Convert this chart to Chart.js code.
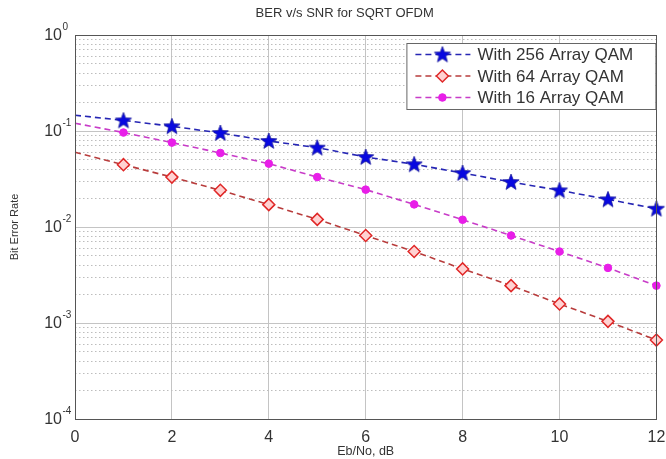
<!DOCTYPE html>
<html><head><meta charset="utf-8">
<script src="https://cdn.jsdelivr.net/npm/chart.js@4.4.1/dist/chart.umd.min.js"></script>
<style>html,body{margin:0;padding:0;background:#fff}#wrap{width:666px;height:459px}</style>
</head><body><div id="wrap"><canvas id="c" width="666" height="459"></canvas></div>
<script>
const snrDb = [0,1,2,3,4,5,6,7,8,9,10,11,12];
const ber256 = [0.146,0.129,0.112,0.0954,0.0787,0.0671,0.0536,0.0450,0.0365,0.0294,0.0241,0.0194,0.0155];
const ber64  = [0.060,0.0446,0.0331,0.0241,0.0171,0.0120,0.00815,0.00555,0.00366,0.00245,0.00158,0.00104,0.000664];
const ber16  = [0.1205,0.0964,0.0757,0.059,0.0457,0.0331,0.0245,0.0172,0.0119,0.00815,0.00555,0.00375,0.00245];
const seriesLabels = ['With 256 Array QAM','With 64 Array QAM','With 16 Array QAM'];
const yDecadeExponents = [0,-1,-2,-3,-4];
const titleText = 'BER v/s SNR for SQRT OFDM';
const xTitleText = 'Eb/No, dB';
const yTitleText = 'Bit Error Rate';

const FONT = '"Liberation Sans", Arial, sans-serif';
const TXT = '#333';

function starCanvas(color){
  const c = document.createElement('canvas'); c.width = 20; c.height = 20;
  const g = c.getContext('2d');
  g.beginPath();
  for (let i=0;i<10;i++){
    const r = i%2===0 ? 8.5 : 3.6;
    const a = -Math.PI/2 + i*Math.PI/5;
    const px = 10 + r*Math.cos(a), py = 10.5 + r*Math.sin(a);
    i===0 ? g.moveTo(px,py) : g.lineTo(px,py);
  }
  g.closePath(); g.fillStyle = color; g.fill();
  g.strokeStyle = '#1a1a9a'; g.lineWidth = 0.8; g.stroke();
  return c;
}
const star = starCanvas('#0808e0');

const pts = arr => snrDb.map((x,i)=>({x, y: arr[i]}));
const hideFirst = r => ctx => ctx.dataIndex === 0 ? 0 : r;

const datasets = [
  { label: seriesLabels[0], data: pts(ber256), borderColor:'#2626b4', borderWidth:1.6, borderDash:[6,4],
    pointStyle: star, pointRadius: hideFirst(8), pointBackgroundColor:'#0808e0', pointBorderColor:'#0808e0', clip: 12 },
  { label: seriesLabels[1], data: pts(ber64), borderColor:'#b83c3c', borderWidth:1.6, borderDash:[6,4],
    pointStyle:'rectRot', pointRadius: hideFirst(6), pointBackgroundColor:'#ffd2d2', pointBorderColor:'#e02828', pointBorderWidth:1.5, clip: 12 },
  { label: seriesLabels[2], data: pts(ber16), borderColor:'#c83cc8', borderWidth:1.6, borderDash:[6,4],
    pointStyle:'circle', pointRadius: hideFirst(3.8), pointBackgroundColor:'#e81ee8', pointBorderColor:'#e81ee8', pointBorderWidth:1, clip: 12 }
];

const decorPlugin = {
  id: 'decor',
  afterDraw(chart){
    const {ctx, chartArea: a, scales} = chart;
    const ys = scales.y;
    ctx.save();
    // axes box
    ctx.strokeStyle = '#555'; ctx.lineWidth = 1; ctx.setLineDash([]);
    ctx.strokeRect(Math.round(a.left)+0.5, Math.round(a.top)+0.5, Math.round(a.right-a.left), Math.round(a.bottom-a.top));
    // title
    ctx.fillStyle = TXT; ctx.textAlign = 'center'; ctx.textBaseline = 'middle';
    ctx.font = '13px ' + FONT;
    ctx.fillText(titleText, (a.left + a.right)/2 - 21, 13);
    // y decade labels with superscripts
    yDecadeExponents.forEach(e => {
      const y = ys.getPixelForValue(Math.pow(10, e));
      ctx.font = '16px ' + FONT; ctx.textAlign = 'right'; ctx.textBaseline = 'middle';
      ctx.fillText('10', a.left - 13, y + 1);
      ctx.font = '10px ' + FONT; ctx.textAlign = 'left';
      ctx.fillText(String(e), a.left - 12.5, y - 8);
    });
    // legend
    const lw = 249, lh = 66;
    const lx = a.right - lw - 1, ly = a.top + 8;
    ctx.fillStyle = '#fff'; ctx.fillRect(lx, ly, lw, lh);
    ctx.strokeStyle = '#666'; ctx.lineWidth = 1; ctx.strokeRect(lx+0.5, ly+0.5, lw, lh);
    chart.data.datasets.forEach((ds, i) => {
      const cy = ly + 11.5 + i*21.5;
      const meta = chart.getDatasetMeta(i);
      ctx.save();
      ctx.strokeStyle = ds.borderColor; ctx.lineWidth = ds.borderWidth; ctx.setLineDash(ds.borderDash);
      ctx.beginPath(); ctx.moveTo(lx + 9, cy); ctx.lineTo(lx + 64, cy); ctx.stroke();
      ctx.restore();
      const o = meta.data[1].options;
      ctx.save();
      ctx.setLineDash([]);
      ctx.fillStyle = o.backgroundColor; ctx.strokeStyle = o.borderColor; ctx.lineWidth = o.borderWidth;
      Chart.helpers.drawPoint(ctx, o, lx + 36, cy);
      ctx.restore();
      ctx.fillStyle = TXT; ctx.font = '17px ' + FONT; ctx.textAlign = 'left'; ctx.textBaseline = 'middle';
      ctx.fillText(ds.label, lx + 71, cy + 1);
    });
    ctx.restore();
  }
};

new Chart(document.getElementById('c'), {
  type: 'line',
  data: { datasets },
  options: {
    responsive: false, animation: false,
    layout: { padding: { top: 35, right: 9, left: 0, bottom: 0 } },
    plugins: { legend: { display: false }, tooltip: { enabled: false } },
    elements: { line: { tension: 0 } },
    scales: {
      x: {
        type: 'linear', min: 0, max: 12,
        ticks: { stepSize: 2, padding: 9, color: TXT, font: { size: 16, family: FONT } },
        grid: { color: '#c4c4c4', lineWidth: 1, drawTicks: false },
        border: { display: false },
        title: { display: true, text: xTitleText, color: TXT, font: { size: 12.5, family: FONT }, padding: { top: 0, bottom: 0 } },
        afterFit(s){ s.height = 40; s.paddingLeft = 0; s.paddingRight = 0; }
      },
      y: {
        type: 'logarithmic', min: 1e-4, max: 1,
        afterBuildTicks(s){
          const t = [];
          for (let e = -4; e <= 0; e++) for (let m = 1; m <= 9; m++) { const v = m*Math.pow(10,e); if (v <= 1.0000001) t.push({value: v}); }
          s.ticks = t;
        },
        ticks: { callback: () => '', autoSkip: false },
        grid: {
          drawTicks: false,
          color: c => { const v = c.tick && c.tick.value; const m = v ? Math.round(v/Math.pow(10,Math.floor(Math.log10(v)+1e-9))) : 1; return m===1 ? '#c4c4c4' : '#bdbdbd'; }
        },
        border: { display: false, dash: c => { const v = c.tick && c.tick.value; if(!v) return []; const m = Math.round(v/Math.pow(10,Math.floor(Math.log10(v)+1e-9))); return m===1 ? [] : [1.5,2.5]; } },
        title: { display: true, text: yTitleText, color: TXT, font: { size: 11, family: FONT }, padding: { top: 8, bottom: 0 } },
        afterFit(s){ s.width = 75; }
      }
    }
  },
  plugins: [decorPlugin]
});
</script>
</body></html>
